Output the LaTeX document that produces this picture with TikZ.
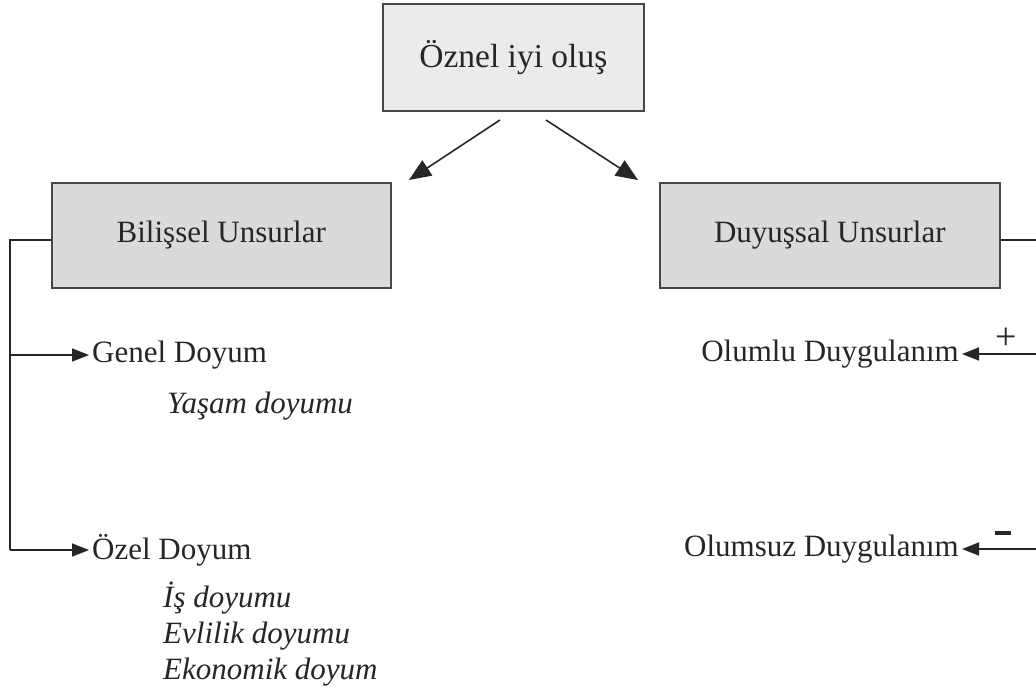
\documentclass[tikz,border=0pt]{standalone}
\usepackage{fontspec}
\setmainfont{Liberation Serif}
\usetikzlibrary{arrows.meta}
\definecolor{ink}{HTML}{262626}
\definecolor{topfill}{HTML}{EBEBEB}
\definecolor{boxfill}{HTML}{D9DADA}
\begin{document}
\begin{tikzpicture}[x=1pt,y=-1pt,
  txt/.style={text=ink,font=\fontsize{31}{36}\selectfont,inner sep=0pt},
  item/.style={txt,inner xsep=3pt},
  itxt/.style={txt,font=\fontsize{31}{36}\selectfont\itshape,align=left},
  panel/.style={draw=ink!85,line width=1.6pt,txt,anchor=north west},
  link/.style={draw=ink,line width=1.6pt},
  bigarrow/.style={link,-{Triangle[length=22pt,width=18pt]}},
  smallarrow/.style={link,-{Triangle[length=17pt,width=13pt]}}]
\useasboundingbox (0,0) rectangle (1036,686);

% top concept
\node[panel,fill=topfill,minimum width=261pt,minimum height=107pt,
      font=\fontsize{33.5}{38}\selectfont] (top) at (382,3) {Öznel iyi oluş};

% two components
\node[panel,fill=boxfill,minimum width=339pt,minimum height=105pt] (cog) at (51,182) {Bilişsel Unsurlar};
\node[panel,fill=boxfill,minimum width=340pt,minimum height=105pt] (aff) at (659,182) {Duyuşsal Unsurlar};

\coordinate (tl) at (500,120);
\coordinate (tr) at (546,120);
\coordinate (cl) at (409,180);
\coordinate (cr) at (638,180);
\draw[bigarrow] (tl) -- (cl);
\draw[bigarrow] (tr) -- (cr);

% cognitive branch
\node[item,anchor=west] (gen) at (89,355) {Genel Doyum};
\node[itxt,anchor=west] (genx) at (167,406) {Yaşam doyumu};
\node[item,anchor=west] (oz) at (89,550) {Özel Doyum};
\node[itxt,anchor=north west] (ozx) at (163,582) {İş doyumu\\Evlilik doyumu\\Ekonomik doyum};

\coordinate (lt) at (10,240);
\coordinate (lg) at (10,355);
\coordinate (lo) at (10,550);
\draw[link] (cog.west |- lt) -- (lt) -- (lo);
\draw[smallarrow] (lg) -- (gen.west);
\draw[smallarrow] (lo) -- (oz.west);

% affective branch
\node[item,anchor=east] (pos) at (962,354) {Olumlu Duygulanım};
\node[item,anchor=east] (neg) at (962,549) {Olumsuz Duygulanım};

\coordinate (rt) at (1036,240);
\coordinate (rp) at (1036,354);
\coordinate (rn) at (1036,549);
\draw[link] (aff.east |- rt) -- (rt);
\draw[smallarrow] (rp) -- (pos.east);
\draw[smallarrow] (rn) -- (neg.east);
\node[txt,font=\fontsize{38}{40}\selectfont] (plus) at (1006,339) {+};
\draw[ink,line width=3.5pt] (995,533) -- (1011,533);
\end{tikzpicture}
\end{document}
